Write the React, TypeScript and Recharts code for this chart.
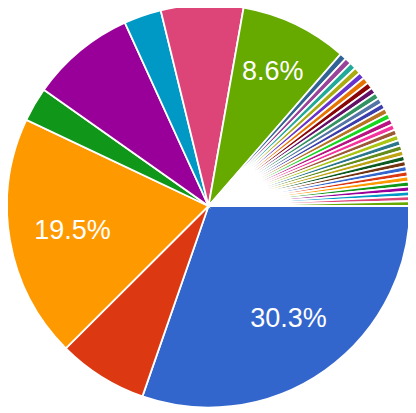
import React from "react";
import { PieChart, Pie, Cell } from "recharts";

const categories: string[] = [
  "A", "B", "C", "D", "E", "F", "G", "H",
  "I1", "I2", "I3", "I4", "I5", "I6", "I7", "I8", "I9", "I10",
  "I11", "I12", "I13", "I14", "I15", "I16", "I17", "I18", "I19", "I20",
  "I21", "I22", "I23", "I24", "I25", "I26", "I27", "I28", "I29", "I30",
];

const values: number[] = [
  30.3, 7.2, 19.5, 2.75, 8.4, 3.0, 6.6, 8.6,
  0.54, 0.53, 0.53, 0.52, 0.51, 0.51, 0.5, 0.49, 0.49, 0.48,
  0.47, 0.47, 0.46, 0.46, 0.45, 0.45, 0.44, 0.44, 0.43, 0.43,
  0.42, 0.42, 0.41, 0.41, 0.4, 0.4, 0.39, 0.39, 0.38, 0.38,
];

const colors: string[] = [
  "#3366cc", "#dc3912", "#ff9900", "#109618", "#990099", "#0099c6", "#dd4477", "#66aa00",
  "#316395", "#994499", "#22aa99", "#aaaa11", "#6633cc", "#e67300", "#8b0707", "#651067",
  "#329262", "#5574a6", "#3b3eac", "#b77322", "#16d620", "#b91383", "#f4359e", "#9c5935",
  "#a9c413", "#2a778d", "#668d1c", "#bea413", "#0c5922", "#743411",
  "#3366cc", "#dc3912", "#ff9900", "#109618", "#990099", "#0099c6", "#dd4477", "#66aa00",
];

const data = categories.map((name, i) => ({ name, value: values[i] }));

const RADIAN = Math.PI / 180;

const renderLabel = (props: any) => {
  const { cx, cy, midAngle, outerRadius, percent } = props;
  if (percent < 0.085) return null;
  const factor = percent > 0.15 ? 0.685 : 0.74;
  const r = outerRadius * factor;
  const x = cx + r * Math.cos(-midAngle * RADIAN);
  const y = cy + r * Math.sin(-midAngle * RADIAN);
  return (
    <text
      x={x}
      y={y}
      fill="#ffffff"
      textAnchor="middle"
      dominantBaseline="central"
      fontFamily="'Liberation Sans', Arial, sans-serif"
      fontSize={27}
    >
      {(percent * 100).toFixed(1) + "%"}
    </text>
  );
};

export default function App() {
  return (
    <PieChart width={408} height={405} margin={{ top: 0, right: 0, bottom: 0, left: 0 }}>
      <Pie
        data={data}
        dataKey="value"
        nameKey="name"
        cx={200.5}
        cy={198}
        outerRadius={201.5}
        innerRadius={0}
        startAngle={0}
        endAngle={-360}
        stroke="#ffffff"
        strokeWidth={1.8}
        label={renderLabel}
        labelLine={false}
        isAnimationActive={false}
      >
        {data.map((d, i) => (
          <Cell key={d.name} fill={colors[i]} />
        ))}
      </Pie>
    </PieChart>
  );
}
